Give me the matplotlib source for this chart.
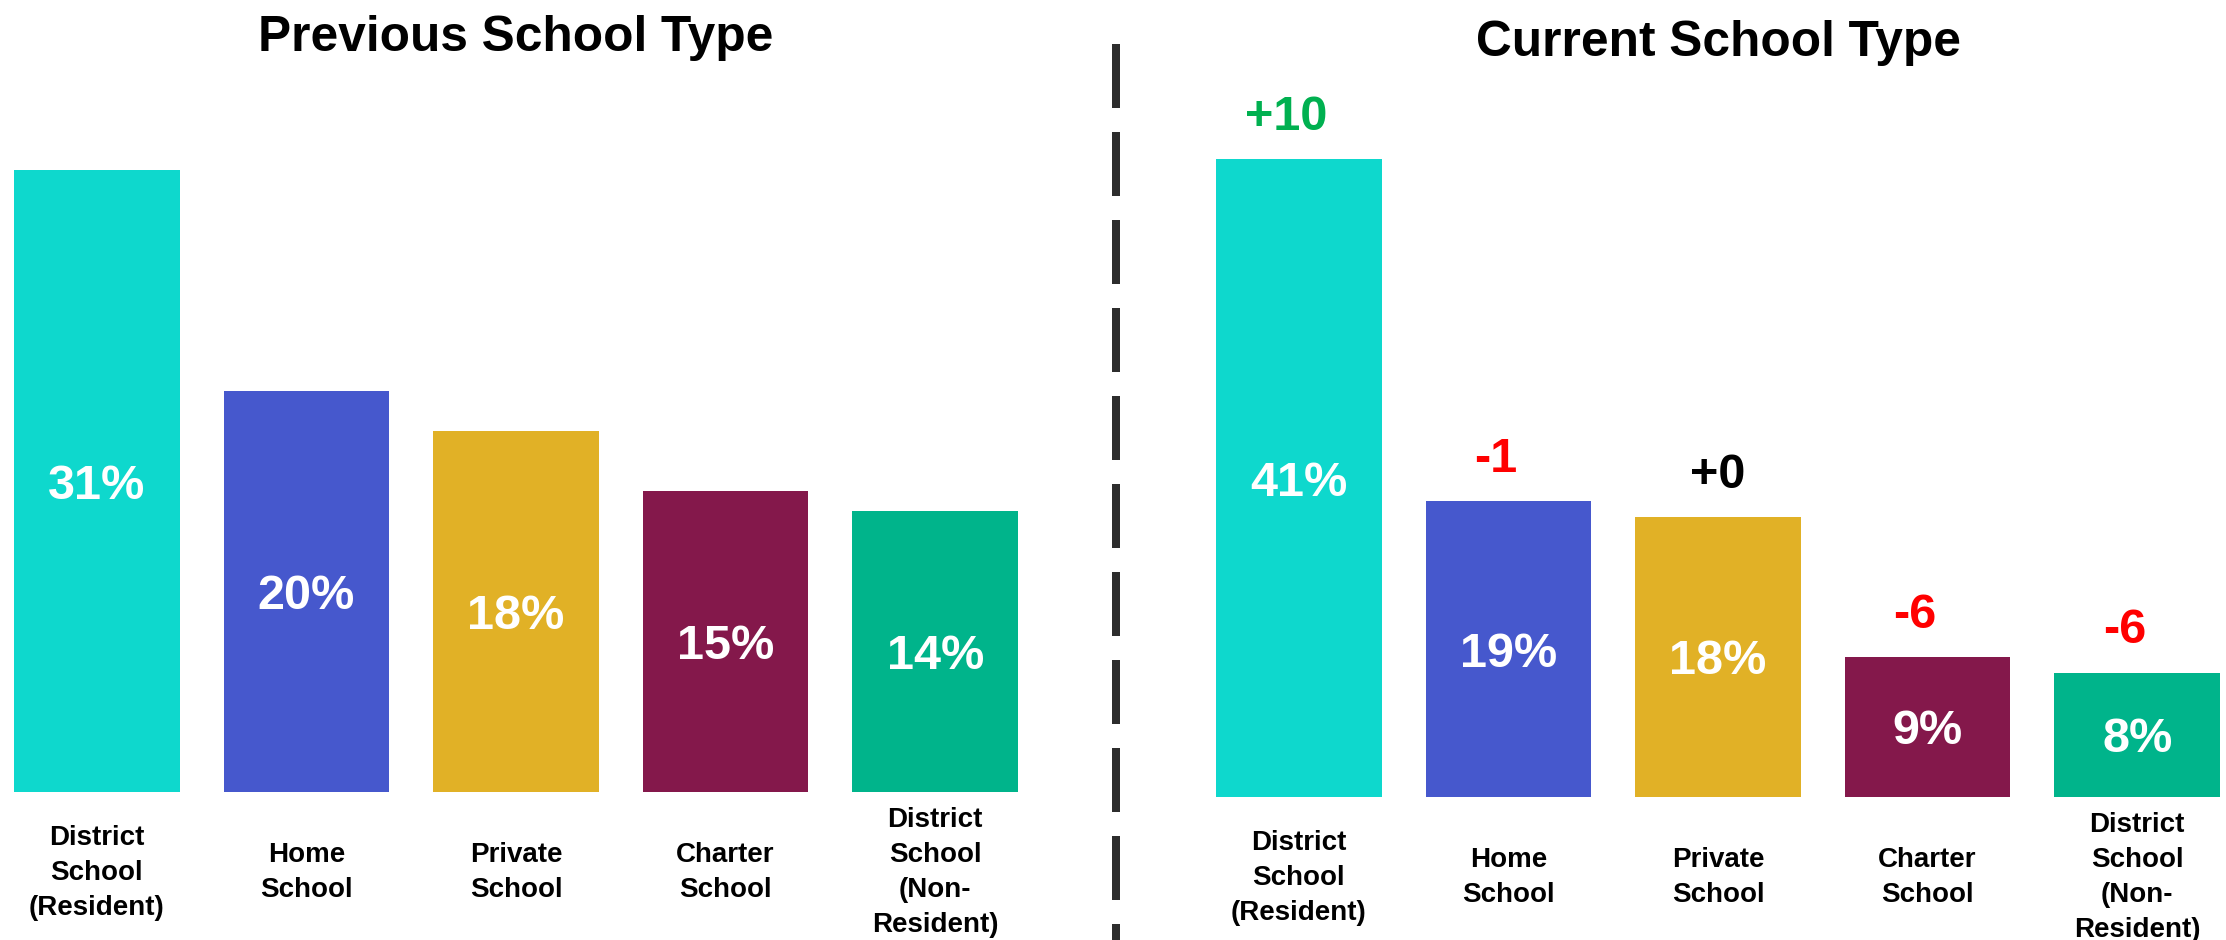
import matplotlib.pyplot as plt
from matplotlib.lines import Line2D

plt.rcParams['font.family'] = ['Liberation Sans', 'DejaVu Sans']
plt.rcParams['font.weight'] = 'bold'

categories = ['District\nSchool\n(Resident)', 'Home\nSchool', 'Private\nSchool',
              'Charter\nSchool', 'District\nSchool\n(Non-\nResident)']
previous_pct = [31, 20, 18, 15, 14]
current_pct = [41, 19, 18, 9, 8]
change = [10, -1, 0, -6, -6]
colors = ['#0ed8cd', '#4658cd', '#e1b126', '#84184b', '#00b48b']

W, H = 2226, 940
fig = plt.figure(figsize=(W / 100, H / 100), dpi=100)


def px_axes(x0, x1, base, top):
    # axes rectangle from pixel coords (y measured from the top of the figure)
    return fig.add_axes([x0 / W, (H - base) / H, (x1 - x0) / W, (base - top) / H])


ax1 = px_axes(-8, 1040, 792, 90)
ax2 = px_axes(1194, 2242, 797, 97)


def draw_panel(ax, values, ymax):
    xs = range(len(values))
    bars = ax.bar(xs, values, width=0.79, color=colors)
    ax.set_xlim(-0.5, len(values) - 0.5)
    ax.set_ylim(0, ymax)
    for s in ax.spines.values():
        s.set_visible(False)
    ax.set_yticks([])
    ax.set_xticks(list(xs))
    ax.set_xticklabels(categories, fontsize=20, fontweight='bold', linespacing=1.45)
    ax.tick_params(axis='x', length=0, pad=58)
    for lbl in ax.get_xticklabels():
        lbl.set_verticalalignment('center')
    for b, v in zip(bars, values):
        ax.text(b.get_x() + b.get_width() / 2, v / 2, f'{v}%', ha='center',
                va='center_baseline', color='white', fontsize=35, fontweight='bold')
    return bars


draw_panel(ax1, previous_pct, 35)
bars2 = draw_panel(ax2, current_pct, 45)

for b, v, d in zip(bars2, current_pct, change):
    if d > 0:
        txt, col, dx = f'+{d}', '#00b050', -9
    elif d < 0:
        txt, col, dx = f'{d}', '#ff0000', -9
    else:
        txt, col, dx = '+0', 'black', 0
    ax2.annotate(txt, (b.get_x() + b.get_width() / 2, v), xytext=(dx, 21),
                 textcoords='offset points', ha='center', va='baseline',
                 color=col, fontsize=35, fontweight='bold')

# panel titles
fig.text(516 / W, 1 - 51 / H, 'Previous School Type', ha='center', va='baseline',
         fontsize=35.7, fontweight='bold')
fig.text(1718 / W, 1 - 56 / H, 'Current School Type', ha='center', va='baseline',
         fontsize=35.7, fontweight='bold')

# dashed divider
fig.add_artist(Line2D([1116 / W, 1116 / W], [1 - 44 / H, 0], transform=fig.transFigure,
                      color='#2d2d2d', lw=5.76, linestyle=(0, (8, 3)),
                      solid_capstyle='butt', dash_capstyle='butt'))

fig.savefig('out.png', dpi=100)
